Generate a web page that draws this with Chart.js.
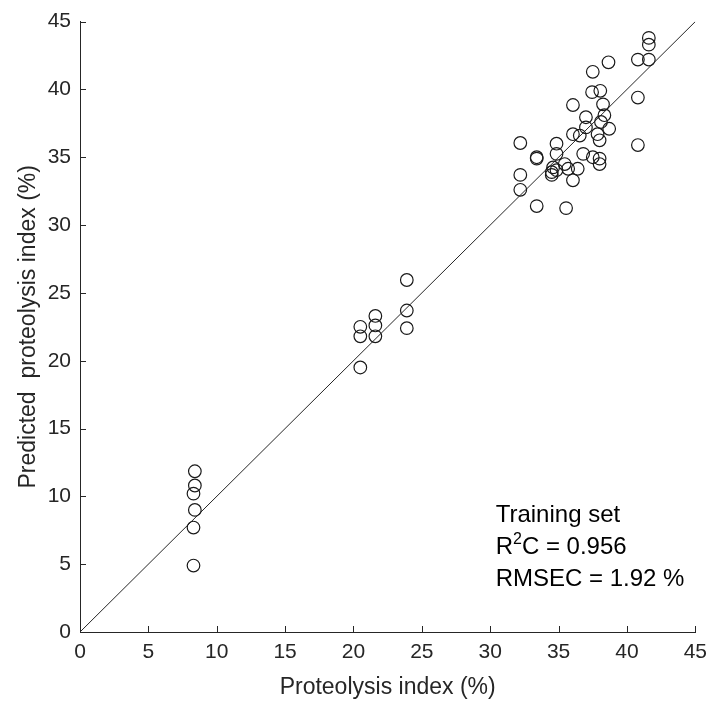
<!DOCTYPE html>
<html>
<head>
<meta charset="utf-8">
<script src="https://cdn.jsdelivr.net/npm/chart.js@4.4.1/dist/chart.umd.min.js"></script>
<style>
  html, body { margin: 0; padding: 0; background: #ffffff; }
  #wrap { width: 715px; height: 706px; }
</style>
</head>
<body>
<div id="wrap"><canvas id="scatterChart"></canvas></div>
<script>
const measured = [
  8.3, 8.3, 8.4, 8.3, 8.4, 8.4,
  20.5, 20.5, 20.5, 21.6, 21.6, 21.6, 23.9, 23.9, 23.9,
  32.2, 32.2, 32.2, 33.4, 33.4, 33.4, 34.5, 34.5, 34.6, 34.85, 34.85, 34.85,
  35.45, 35.55, 35.7, 36.05, 36.05, 36.05, 36.4, 36.55, 36.8,
  37.0, 37.0, 37.45, 37.5, 37.5, 37.85, 38.0, 38.0, 38.0, 38.05, 38.1, 38.25,
  38.35, 38.65, 38.7, 40.8, 40.8, 40.8, 41.6, 41.6, 41.6
];
const predicted = [
  4.9, 7.7, 9.0, 10.2, 10.8, 11.85,
  19.5, 21.8, 22.5, 21.8, 22.6, 23.3, 22.4, 23.7, 25.95,
  32.6, 33.7, 36.05, 31.4, 34.9, 35.0, 33.7, 33.9, 34.25, 34.05, 35.25, 36.0,
  34.5, 31.25, 34.15, 33.3, 36.7, 38.85, 34.15, 36.6, 35.25,
  37.2, 37.95, 39.8, 35.0, 41.3, 36.7, 34.5, 34.9, 36.25, 39.9, 37.6, 38.9,
  38.1, 42.0, 37.1, 35.9, 39.4, 42.2, 42.2, 43.3, 43.8
];
// reference line drawn in the figure
const lineX = [0, 45];
const lineY = [0, 45];

const axisMin = 0;
const axisMax = 45;
const tickStep = 5;

const xTitle = "Proteolysis index (%)";
const yTitle = "Predicted  proteolysis index (%)";
const noteLines = ["Training set", "R|2|C = 0.956", "RMSEC = 1.92 %"];

const axisColor = "#262626";
const fontFamily = "'Liberation Sans', Arial, Helvetica, sans-serif";

// MATLAB-style ticks pointing into the plot
const innerTicks = {
  id: "innerTicks",
  afterDraw(chart) {
    const ctx = chart.ctx;
    const xs = chart.scales.x;
    const ys = chart.scales.y;
    ctx.save();
    ctx.strokeStyle = axisColor;
    ctx.lineWidth = 1;
    ctx.beginPath();
    xs.ticks.forEach((t) => {
      const px = Math.round(xs.getPixelForValue(t.value)) + 0.5;
      ctx.moveTo(px, ys.bottom);
      ctx.lineTo(px, ys.bottom - 6);
    });
    ys.ticks.forEach((t) => {
      const py = Math.round(ys.getPixelForValue(t.value)) + 0.5;
      ctx.moveTo(xs.left, py);
      ctx.lineTo(xs.left + 6, py);
    });
    ctx.stroke();
    ctx.restore();
  },
};

// the "Training set" note in the lower right corner
const notePlugin = {
  id: "notePlugin",
  afterDraw(chart) {
    const ctx = chart.ctx;
    const xs = chart.scales.x;
    const ys = chart.scales.y;
    const left = xs.getPixelForValue(30.4);
    let base = ys.getPixelForValue(8.1);
    ctx.save();
    ctx.fillStyle = "#000000";
    ctx.textBaseline = "alphabetic";
    noteLines.forEach((line) => {
      let x = left;
      line.split("|").forEach((part, i) => {
        if (i === 1) {
          ctx.font = `16px ${fontFamily}`;
          ctx.fillText(part, x, base - 10);
        } else {
          ctx.font = `24px ${fontFamily}`;
          ctx.fillText(part, x, base);
        }
        x += ctx.measureText(part).width;
      });
      base += 32;
    });
    ctx.restore();
  },
};

function makeAxis(title, isX) {
  return {
    type: "linear",
    min: axisMin,
    max: axisMax,
    afterFit: (s) => {
      if (isX) s.height = 74;
      else s.width = 80;
    },
    ticks: {
      stepSize: tickStep,
      autoSkip: false,
      color: axisColor,
      padding: isX ? 8 : 9,
      font: { family: fontFamily, size: 21 },
    },
    grid: { display: false, drawTicks: false },
    border: { display: true, color: axisColor, width: 1 },
    title: {
      display: true,
      text: title,
      color: axisColor,
      padding: isX ? { top: 5, bottom: 5 } : { top: 15, bottom: 15 },
      font: { family: fontFamily, size: 23 },
    },
  };
}

const ctx = document.getElementById("scatterChart").getContext("2d");
new Chart(ctx, {
  type: "scatter",
  data: {
    datasets: [
      {
        label: "Training set",
        data: measured.map((v, i) => ({ x: v, y: predicted[i] })),
        pointStyle: "circle",
        pointRadius: 6.3,
        pointHoverRadius: 6.3,
        borderColor: "#1a1a1a",
        backgroundColor: "rgba(0,0,0,0)",
        borderWidth: 1.2,
      },
      {
        type: "line",
        label: "fit",
        data: lineX.map((v, i) => ({ x: v, y: lineY[i] })),
        borderColor: axisColor,
        borderWidth: 1,
        pointRadius: 0,
        fill: false,
      },
    ],
  },
  options: {
    responsive: true,
    maintainAspectRatio: false,
    animation: false,
    layout: { padding: { top: 19, right: 15, left: 0, bottom: 0 } },
    plugins: {
      legend: { display: false },
      tooltip: { enabled: false },
    },
    scales: {
      x: makeAxis(xTitle, true),
      y: makeAxis(yTitle, false),
    },
  },
  plugins: [innerTicks, notePlugin],
});
</script>
</body>
</html>
